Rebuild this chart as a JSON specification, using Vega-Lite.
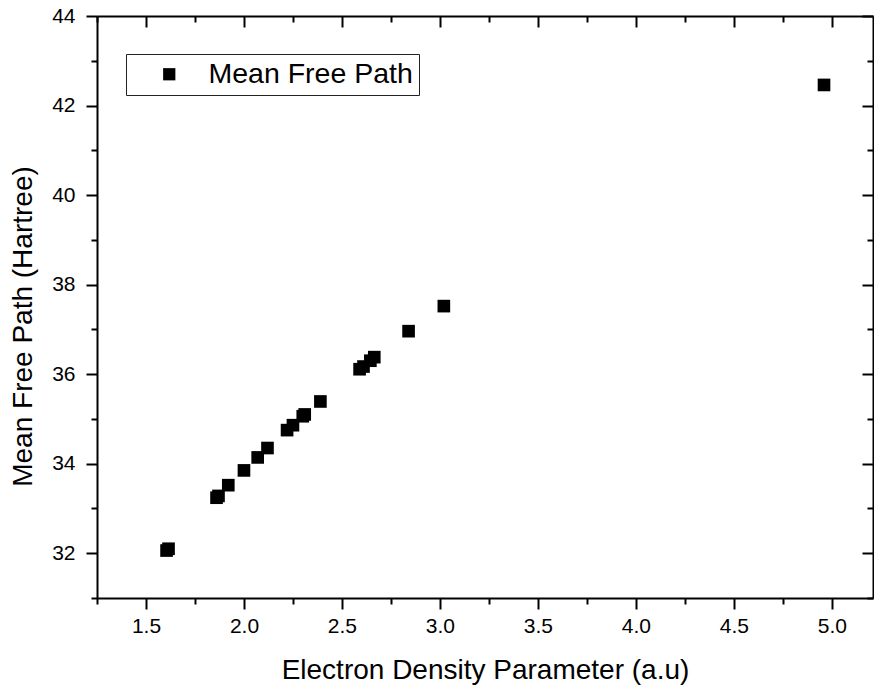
{
  "$schema": "https://vega.github.io/schema/vega-lite/v6.json",
  "autosize": "none",
  "width": 776,
  "height": 582,
  "padding": {"left": 97, "top": 16, "right": 1, "bottom": 92},
  "background": "white",
  "config": {
    "view": {"stroke": null},
    "font": "Liberation Sans",
    "axis": {"grid": false, "domainColor": "black", "domainWidth": 2, "tickColor": "black", "tickWidth": 2, "labelColor": "black", "titleColor": "black", "labelFont": "Liberation Sans", "titleFont": "Liberation Sans", "titleFontWeight": "normal", "labelFontSize": 21, "titleFontSize": 28}
  },
  "data": {
    "values": [
      {"rs": 1.605, "mfp": 32.06, "series": "Mean Free Path"},
      {"rs": 1.615, "mfp": 32.10, "series": "Mean Free Path"},
      {"rs": 1.86, "mfp": 33.24, "series": "Mean Free Path"},
      {"rs": 1.87, "mfp": 33.28, "series": "Mean Free Path"},
      {"rs": 1.92, "mfp": 33.52, "series": "Mean Free Path"},
      {"rs": 2.00, "mfp": 33.85, "series": "Mean Free Path"},
      {"rs": 2.07, "mfp": 34.14, "series": "Mean Free Path"},
      {"rs": 2.12, "mfp": 34.35, "series": "Mean Free Path"},
      {"rs": 2.22, "mfp": 34.75, "series": "Mean Free Path"},
      {"rs": 2.25, "mfp": 34.86, "series": "Mean Free Path"},
      {"rs": 2.30, "mfp": 35.06, "series": "Mean Free Path"},
      {"rs": 2.31, "mfp": 35.10, "series": "Mean Free Path"},
      {"rs": 2.39, "mfp": 35.39, "series": "Mean Free Path"},
      {"rs": 2.59, "mfp": 36.11, "series": "Mean Free Path"},
      {"rs": 2.61, "mfp": 36.17, "series": "Mean Free Path"},
      {"rs": 2.645, "mfp": 36.30, "series": "Mean Free Path"},
      {"rs": 2.665, "mfp": 36.38, "series": "Mean Free Path"},
      {"rs": 2.84, "mfp": 36.96, "series": "Mean Free Path"},
      {"rs": 3.02, "mfp": 37.52, "series": "Mean Free Path"},
      {"rs": 4.96, "mfp": 42.46, "series": "Mean Free Path"}
    ]
  },
  "layer": [
    {
      "mark": {"type": "point", "shape": "square", "filled": true, "size": 160, "opacity": 1, "strokeWidth": 0},
      "encoding": {
        "x": {
          "field": "rs", "type": "quantitative",
          "scale": {"domain": [1.25, 5.21], "nice": false, "zero": false},
          "axis": {
            "orient": "bottom",
            "title": "Electron Density Parameter (a.u)",
            "values": [1.25, 1.5, 1.75, 2.0, 2.25, 2.5, 2.75, 3.0, 3.25, 3.5, 3.75, 4.0, 4.25, 4.5, 4.75, 5.0],
            "labelExpr": "(datum.value * 2) % 1 === 0 ? format(datum.value, '.1f') : ''",
            "tickSize": {"condition": {"test": "(datum.value * 2) % 1 === 0", "value": 11}, "value": 6},
            "labelPadding": 6,
            "titlePadding": 20,
            "labelFlush": false,
            "labelOverlap": false
          }
        },
        "y": {
          "field": "mfp", "type": "quantitative",
          "scale": {"domain": [31, 44], "nice": false, "zero": false},
          "axis": {
            "orient": "left",
            "title": "Mean Free Path (Hartree)",
            "values": [31, 32, 33, 34, 35, 36, 37, 38, 39, 40, 41, 42, 43, 44],
            "labelExpr": "datum.value % 2 === 0 ? format(datum.value, 'd') : ''",
            "tickSize": {"condition": {"test": "datum.value % 2 === 0", "value": 11}, "value": 6},
            "labelPadding": 11,
            "titlePadding": 14,
            "titleY": 310,
            "labelFlush": false,
            "labelOverlap": false
          }
        },
        "color": {
          "field": "series", "type": "nominal",
          "scale": {"range": ["black"]},
          "legend": {
            "orient": "none",
            "legendX": 29,
            "legendY": 38,
            "title": null,
            "symbolType": "square",
            "symbolSize": 150,
            "symbolFillColor": "black",
            "symbolStrokeWidth": 0,
            "symbolOffset": 23,
            "labelOffset": 25,
            "labelFont": "Liberation Sans",
            "labelFontSize": 28.5,
            "labelColor": "black",
            "padding": 6,
            "strokeColor": "#222222",
            "fillColor": "white",
            "labelLimit": 400
          }
        }
      }
    },
    {
      "mark": {"type": "point", "shape": "square", "filled": true, "size": 160, "opacity": 0},
      "encoding": {
        "x": {
          "field": "rs", "type": "quantitative",
          "axis": {
            "orient": "top",
            "title": null,
            "labels": false,
            "values": [1.25, 1.5, 1.75, 2.0, 2.25, 2.5, 2.75, 3.0, 3.25, 3.5, 3.75, 4.0, 4.25, 4.5, 4.75, 5.0],
            "tickSize": {"condition": {"test": "(datum.value * 2) % 1 === 0", "value": -11}, "value": -6}
          }
        },
        "y": {
          "field": "mfp", "type": "quantitative",
          "axis": {
            "orient": "right",
            "title": null,
            "labels": false,
            "values": [31, 32, 33, 34, 35, 36, 37, 38, 39, 40, 41, 42, 43, 44],
            "tickSize": {"condition": {"test": "datum.value % 2 === 0", "value": -11}, "value": -6}
          }
        }
      }
    }
  ],
  "resolve": {"axis": {"x": "independent", "y": "independent"}}
}
